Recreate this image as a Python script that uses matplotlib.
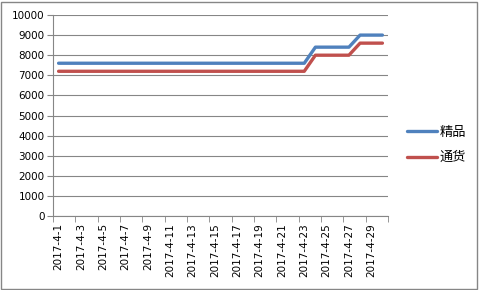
import matplotlib
matplotlib.use("Agg")
import matplotlib.pyplot as plt
from matplotlib.patches import Rectangle

# --- data ---
dates = [f"2017-4-{d}" for d in range(1, 31)]
jingpin = [7600] * 23 + [8400] * 4 + [9000] * 3   # 精品
tonghuo = [7200] * 23 + [8000] * 4 + [8600] * 3   # 通货
series_names = ["精品", "通货"]
colors = ["#4F81BD", "#C0504D"]

plt.rcParams["font.family"] = ["DejaVu Sans", "Noto Sans CJK SC"]

W, H = 479, 290
fig = plt.figure(figsize=(W / 100, H / 100), dpi=100)
ax = fig.add_axes([53 / W, 1 - 216 / H, (388 - 53) / W, (216 - 15) / H])

x = list(range(len(dates)))
for ys, name, c in zip([jingpin, tonghuo], series_names, colors):
    ax.plot(x, ys, color=c, lw=2.4, label=name, solid_capstyle="round")

ax.set_xlim(-0.5, len(dates) - 0.5)
ax.set_ylim(0, 10000)
ax.set_yticks(range(0, 10001, 1000))
ax.yaxis.grid(True, color="#868686", lw=0.8)
ax.set_axisbelow(True)

ax.set_xticks(x[::2])
ax.set_xticklabels(dates[::2], rotation=90, fontsize=7.5)
ax.set_xticks([i - 0.5 for i in range(0, len(dates) + 1, 2)], minor=True)
ax.tick_params(axis="x", which="major", length=0, pad=5)
ax.tick_params(axis="x", which="minor", length=4, color="#868686", direction="out")
ax.tick_params(axis="y", length=4, color="#868686", labelsize=7.5, pad=2)

for s in ["top", "right"]:
    ax.spines[s].set_visible(False)
for s in ["left", "bottom"]:
    ax.spines[s].set_color("#868686")
    ax.spines[s].set_linewidth(0.8)

leg = fig.legend(loc="center left", bbox_to_anchor=(407 / W, 1 - 145 / H),
                 frameon=False, handlelength=2.3, handletextpad=0.15,
                 labelspacing=0.95, borderpad=0, borderaxespad=0,
                 prop={"family": "Noto Sans CJK SC", "size": 9.5})

fig.patches.append(Rectangle((1 / W, 1.5 / H), 1 - 3 / W, 1 - 3 / H,
                             transform=fig.transFigure, fill=False,
                             edgecolor="#868686", lw=1))

fig.savefig("out.png", dpi=100)
